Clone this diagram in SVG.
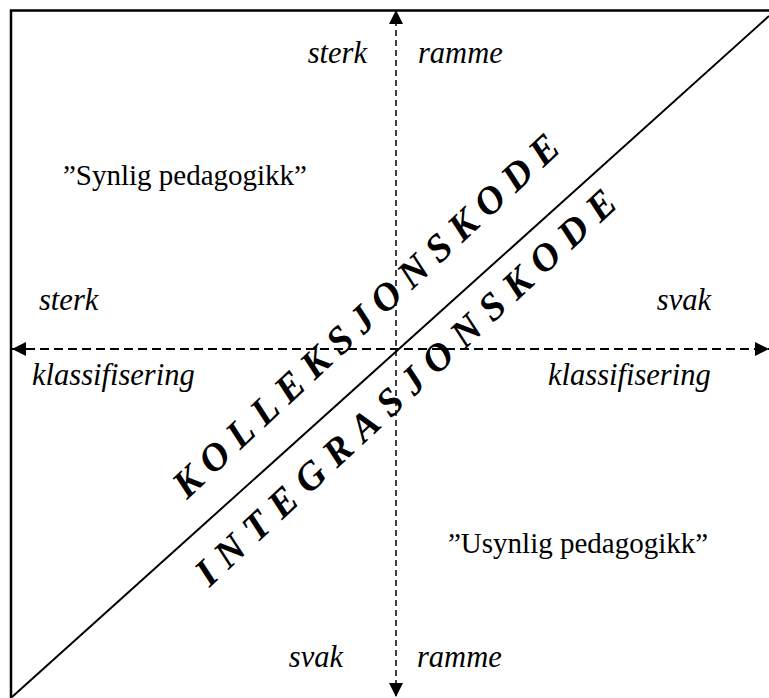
<svg xmlns="http://www.w3.org/2000/svg" width="769" height="698" viewBox="0 0 769 698">
<style>
text{font-family:'Liberation Serif','Times New Roman',serif;fill:#000}
.lbl{font-size:30.5px;font-style:italic}
.reg{font-size:29px}
.code{font-size:39px;font-style:italic;font-weight:bold}
.axis{stroke:#000;fill:none}
</style>
<defs>
<marker id="arr" markerUnits="userSpaceOnUse" markerWidth="14" markerHeight="14" refX="14" refY="7" orient="auto-start-reverse" viewBox="0 0 14 14">
<path d="M0,0 L14,7 L0,14 z" fill="#000"/>
</marker>
</defs>
<rect width="769" height="698" fill="#fff"/>
<g id="frame">
<rect x="11" y="10.5" width="800" height="720" fill="none" stroke="#000" stroke-width="2.5"/>
<line x1="12" y1="697" x2="769" y2="16" stroke="#000" stroke-width="2"/>
</g>
<g id="connectors">
<line class="axis" x1="396" y1="10" x2="396" y2="697" stroke-width="1.5" stroke-dasharray="6,4" marker-start="url(#arr)" marker-end="url(#arr)"/>
<line class="axis" x1="12" y1="349" x2="769" y2="349" stroke-width="2" stroke-dasharray="9,5" marker-start="url(#arr)" marker-end="url(#arr)"/>
</g>
<g id="top-labels">
<text class="lbl" x="367" y="63" text-anchor="end">sterk</text>
<text class="lbl" x="418" y="63">ramme</text>
</g>
<g id="synlig">
<text class="reg" x="307" y="185" text-anchor="end">”Synlig pedagogikk”</text>
</g>
<g id="left-labels">
<text class="lbl" x="39" y="310">sterk</text>
<text class="lbl" x="32" y="385">klassifisering</text>
</g>
<g id="right-labels">
<text class="lbl" x="711" y="310" text-anchor="end">svak</text>
<text class="lbl" x="548" y="385">klassifisering</text>
</g>
<g id="usynlig">
<text class="reg" x="448" y="553">”Usynlig pedagogikk”</text>
</g>
<g id="bottom-labels">
<text class="lbl" x="343" y="667" text-anchor="end">svak</text>
<text class="lbl" x="417" y="667">ramme</text>
</g>
<g id="kolleksjonskode">
<text class="code" x="374.6" y="325.1" text-anchor="middle" textLength="513" lengthAdjust="spacing" transform="rotate(-43 374.6 325.1)">KOLLEKSJONSKODE</text>
</g>
<g id="integrasjonskode">
<text class="code" x="414.4" y="396.7" text-anchor="middle" textLength="560" lengthAdjust="spacing" transform="rotate(-43 414.4 396.7)">INTEGRASJONSKODE</text>
</g>
</svg>
